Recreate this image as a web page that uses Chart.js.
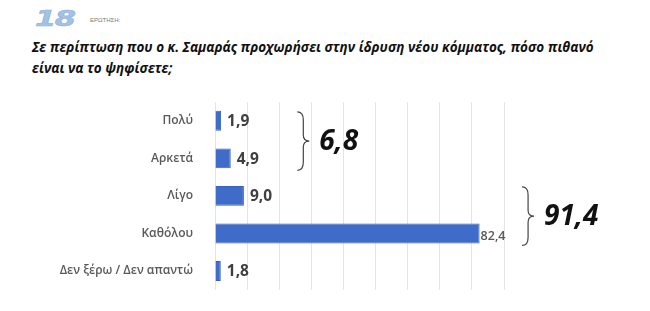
<!DOCTYPE html>
<html>
<head>
<meta charset="utf-8">
<script src="https://cdn.jsdelivr.net/npm/chart.js@4"></script>
<style>
  html, body { margin: 0; padding: 0; background: #fff; }
  #wrap { position: relative; width: 650px; height: 311px; overflow: hidden; }
  #num { position: absolute; left: 35px; top: 7px; font: italic 900 21px "DejaVu Sans", sans-serif; color: #a3c2e6; transform: scaleX(1.45); transform-origin: left top; letter-spacing: -1px; -webkit-text-stroke: 0.6px #8fb2dc; }
  #q { position: absolute; left: 90px; top: 17px; font: 6px "Liberation Sans", sans-serif; color: #777; }
  #title { position: absolute; left: 32px; top: 37px; width: 610px; font: italic bold 13.5px "Open Sans", sans-serif; color: #111; line-height: 21px; }
  canvas { position: absolute; left: 0; top: 0; }
</style>
</head>
<body>
<div id="wrap">
  <div id="num">18</div>
  <div id="q">ΕΡΩΤΗΣΗ:</div>
  <div id="title">Σε περίπτωση που ο κ. Σαμαράς προχωρήσει στην ίδρυση νέου κόμματος, πόσο πιθανό<br>είναι να το ψηφίσετε;</div>
  <canvas id="myChart" width="650" height="311"></canvas>
</div>
<script>
// answers and percentages
const categories = ['Πολύ', 'Αρκετά', 'Λίγο', 'Καθόλου', 'Δεν ξέρω / Δεν απαντώ'];
const values = [1.9, 4.9, 9.0, 82.4, 1.8];
const xTicks = [0, 10, 20, 30, 40, 50, 60, 70, 80, 90];

// grouped totals shown with braces
const groupTotals = ['6,8', '91,4'];
const groupFrom = [0, 2];
const groupTo = [1, 3];

const fmt = v => v.toFixed(1).replace('.', ',');

// value labels next to each bar
const barLabels = {
	id: 'barLabels',
	afterDatasetsDraw(chart){
		const ctx = chart.ctx;
		const meta = chart.getDatasetMeta(0);
		ctx.save();
		ctx.textBaseline = 'middle';
		meta.data.forEach((bar, i)=>{
			if(values[i] > 50){
				ctx.font = '600 12.5px "Open Sans", sans-serif';
				ctx.fillStyle = '#595959';
				ctx.fillText(fmt(values[i]), bar.x + 1, bar.y + 3);
			} else {
				ctx.font = 'bold 15.5px "Open Sans", sans-serif';
				ctx.fillStyle = '#404040';
				ctx.fillText(fmt(values[i]), bar.x + 6, bar.y + 1);
			}
		});
		ctx.restore();
	}
}

// curly braces with group totals
const braces = {
	id: 'braces',
	afterDraw(chart, args, opts){
		const ctx = chart.ctx;
		const xs = chart.scales.x, ys = chart.scales.y;
		ctx.save();
		groupTotals.forEach((txt, g)=>{
			const x = xs.getPixelForValue(opts.at[g]);
			const top = ys.getPixelForValue(groupFrom[g]) - opts.above;
			const bot = ys.getPixelForValue(groupTo[g]) + opts.below;
			const mid = (top + bot) / 2;
			const w = 6;
			ctx.beginPath();
			ctx.strokeStyle = '#444';
			ctx.lineWidth = 1.2;
			ctx.moveTo(x - w, top);
			ctx.quadraticCurveTo(x, top, x, top + 8);
			ctx.lineTo(x, mid - 6);
			ctx.quadraticCurveTo(x, mid, x + w, mid);
			ctx.quadraticCurveTo(x, mid, x, mid + 6);
			ctx.lineTo(x, bot - 8);
			ctx.quadraticCurveTo(x, bot, x - w, bot);
			ctx.stroke();
			ctx.font = 'italic bold 28px "Open Sans", sans-serif';
			ctx.fillStyle = '#111';
			ctx.textBaseline = 'middle';
			ctx.fillText(txt, x + 16, mid + 1);
		});
		ctx.restore();
	}
}

const ctx = document.getElementById('myChart');
const myChart = new Chart(ctx, {
	type: 'bar',
	data: {
		labels: categories,
		datasets: [{
			data: values,
			backgroundColor: '#3f6cc8',
			borderColor: '#3461bd',
			borderWidth: 1,
			barPercentage: 0.53,
			categoryPercentage: 1
		}]
	},
	options: {
		indexAxis: 'y',
		responsive: false,
		animation: false,
		layout: { padding: { top: 102, right: 146, bottom: 19, left: 0 } },
		plugins: {
			legend: { display: false },
			tooltip: { enabled: false },
			braces: { at: [27.5, 97.5], above: 9, below: 12 }
		},
		scales: {
			x: {
				min: 0,
				max: 90,
				afterBuildTicks: s => { s.ticks = xTicks.map(v => ({ value: v })); },
				ticks: { display: false },
				grid: { color: '#e4e4e4', drawTicks: false },
				border: { display: false }
			},
			y: {
				afterFit: s => { s.width = 215; },
				grid: { display: false },
				border: { display: false },
				ticks: {
					padding: 14,
					color: '#595959',
					font: { family: '"Open Sans", sans-serif', size: 12, weight: '600' }
				}
			}
		}
	},
	plugins: [barLabels, braces]
});
</script>
</body>
</html>
